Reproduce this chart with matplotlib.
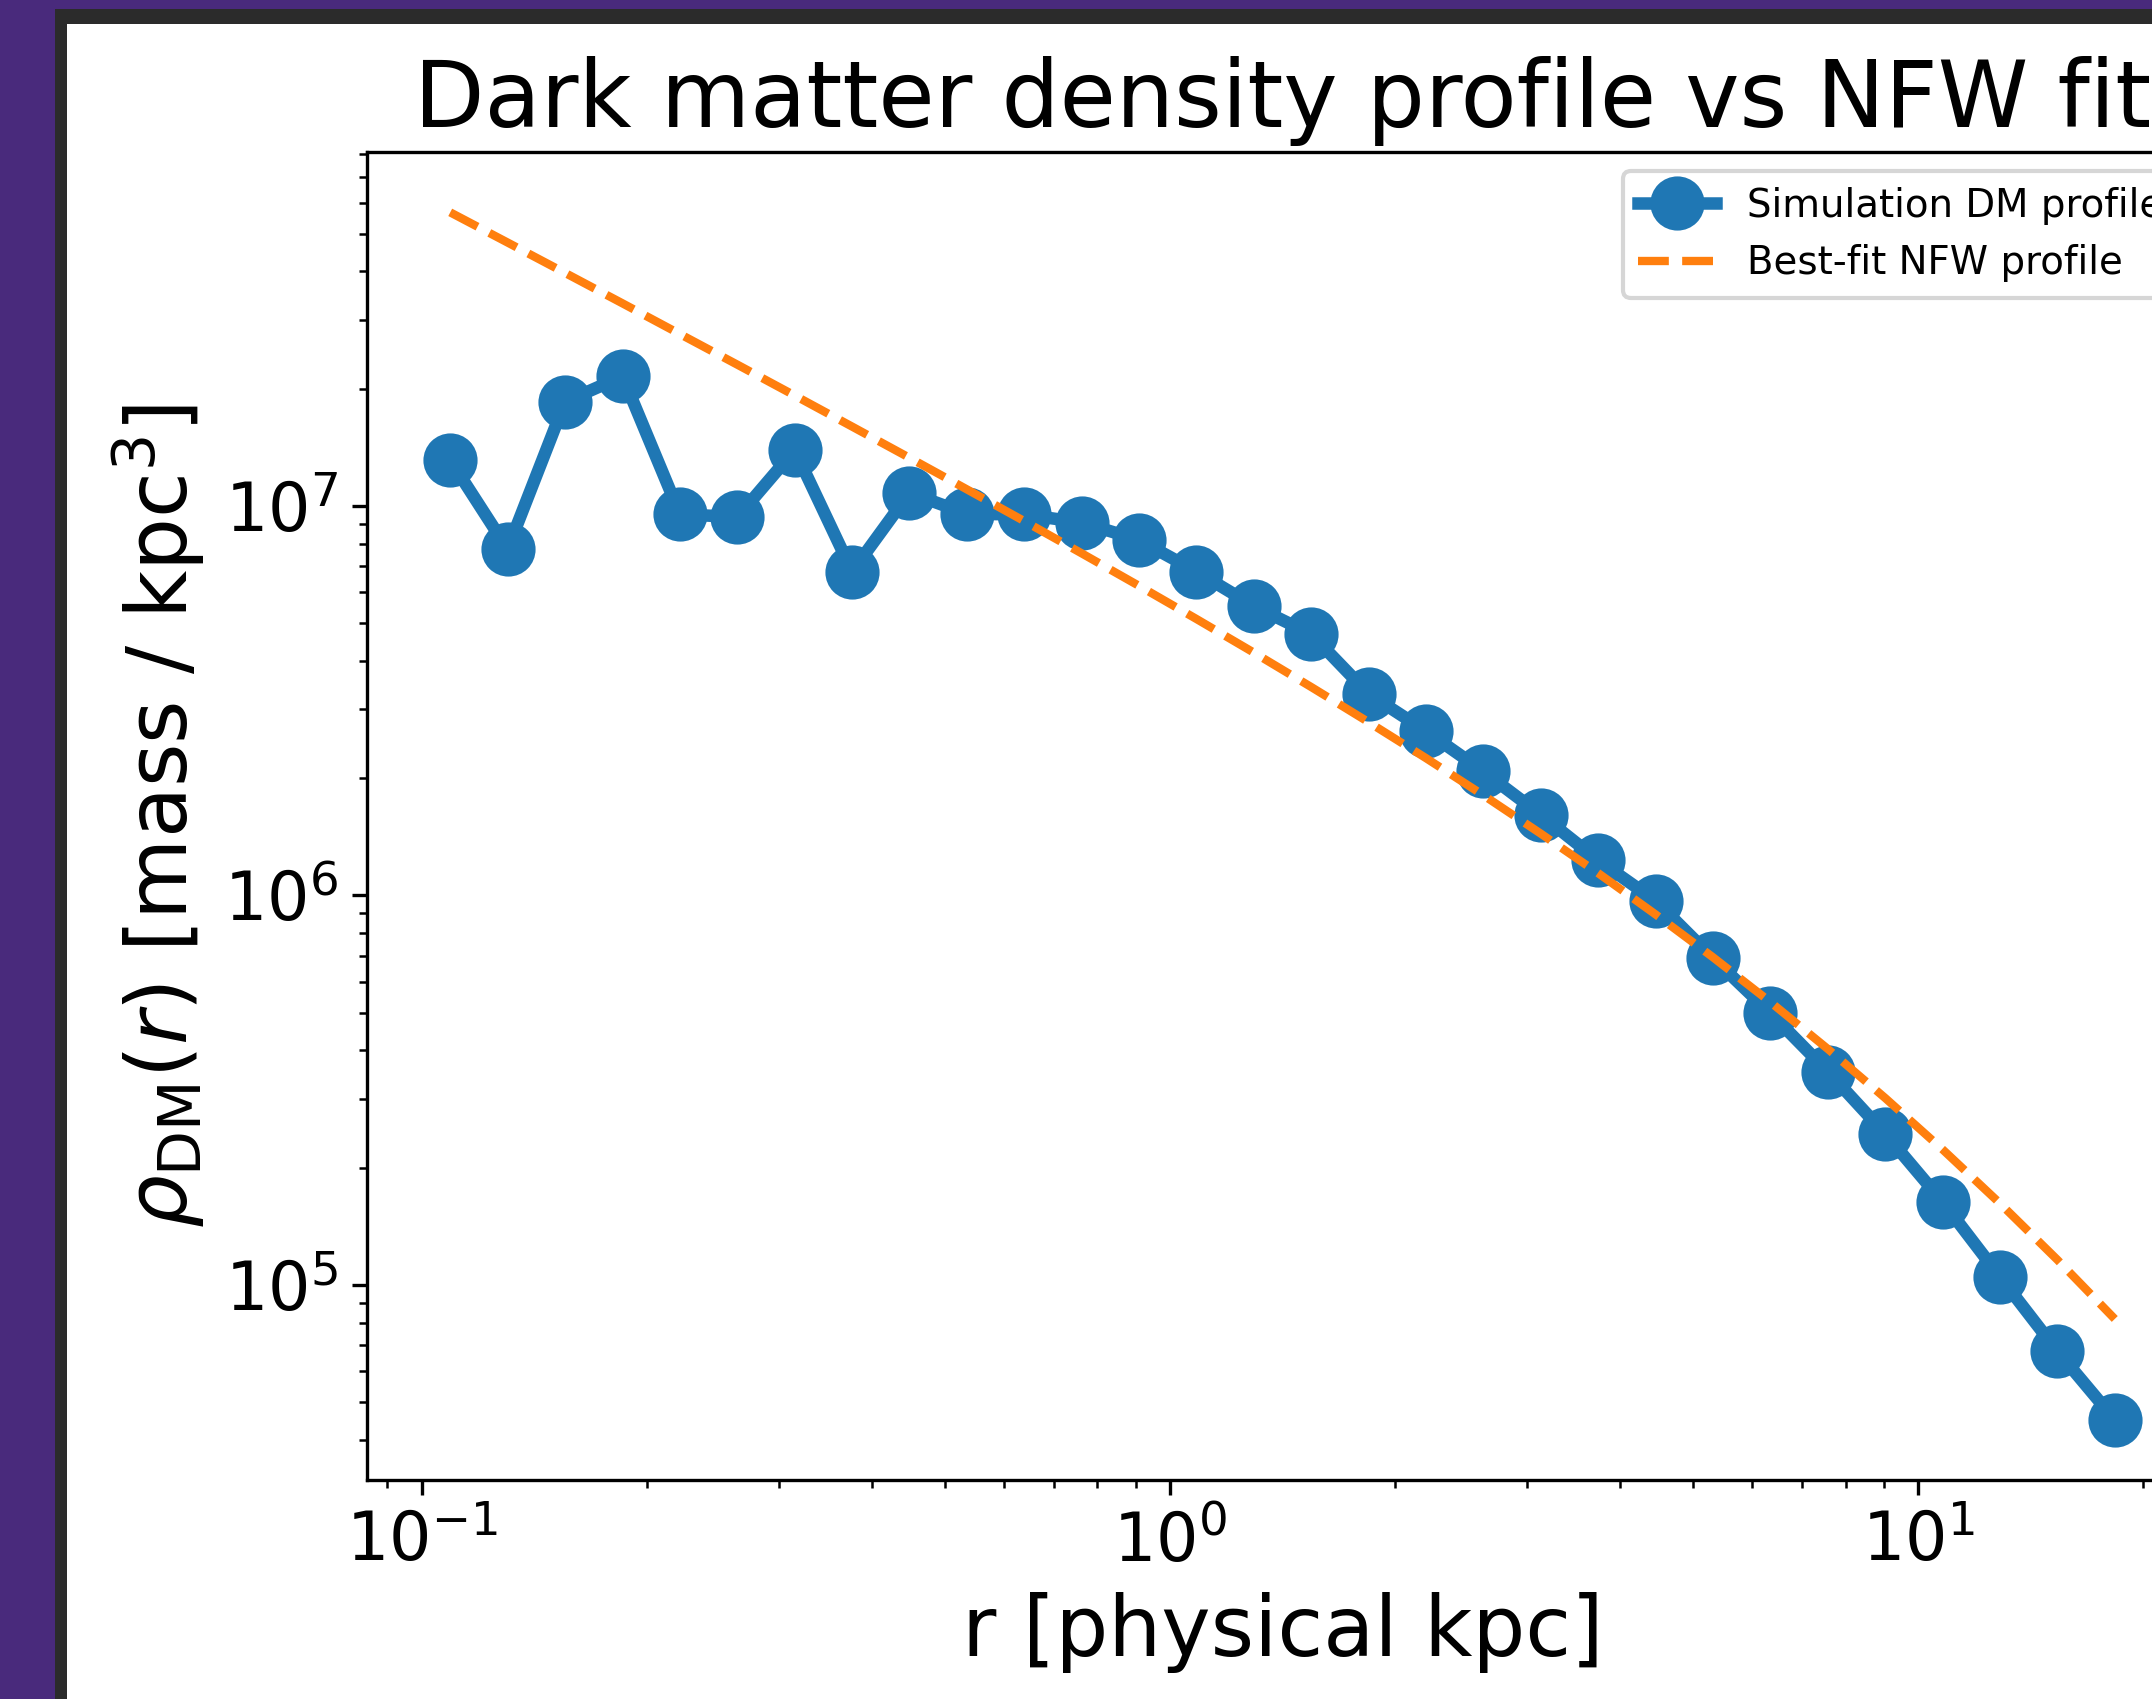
import matplotlib
matplotlib.use("Agg")
import matplotlib.pyplot as plt
from matplotlib.patches import Rectangle

# ---- data ----
r_kpc = [0.1092, 0.1303, 0.1555, 0.1856, 0.2214, 0.2642, 0.3152, 0.3761, 0.4487, 0.5354,
         0.6388, 0.7622, 0.9094, 1.0851, 1.2947, 1.5447, 1.8431, 2.1991, 2.6239, 3.1308,
         3.7355, 4.4571, 5.3180, 6.3453, 7.5710, 9.0334, 10.778, 12.860, 15.344, 18.308]

rho_sim = [1.31e7, 7.74e6, 1.85e7, 2.15e7, 9.52e6, 9.35e6, 1.39e7, 6.78e6, 1.08e7, 9.54e6,
           9.50e6, 9.06e6, 8.17e6, 6.78e6, 5.53e6, 4.68e6, 3.29e6, 2.64e6, 2.08e6, 1.61e6,
           1.23e6, 9.68e5, 6.90e5, 4.985e5, 3.53e5, 2.443e5, 1.635e5, 1.049e5, 6.76e4, 4.51e4]

rho_nfw = [5.666e7, 4.740e7, 3.961e7, 3.308e7, 2.760e7, 2.303e7, 1.919e7, 1.597e7, 1.328e7, 1.102e7,
           9.134e6, 7.551e6, 6.229e6, 5.122e6, 4.198e6, 3.426e6, 2.783e6, 2.250e6, 1.807e6, 1.440e6,
           1.140e6, 8.933e5, 6.934e5, 5.321e5, 4.034e5, 3.018e5, 2.227e5, 1.619e5, 1.160e5, 8.177e4]

title = "Dark matter density profile vs NFW fit"
xlabel = "r [physical kpc]"
ylabel = r"$\rho_{\rm DM}(r)$ [mass / kpc$^3$]"
labels = ["Simulation DM profile", "Best-fit NFW profile"]

# ---- figure ----
W, H = 2152, 1699
DPI = 300
fig = plt.figure(figsize=(W / DPI, H / DPI), dpi=DPI)
fig.patch.set_facecolor("#492a7c")

# dark window frame and white canvas
fig.add_artist(Rectangle((55 / W, 0), 1, 1 - 9 / H, transform=fig.transFigure,
                         facecolor="#2b2b2b", edgecolor="none", zorder=-3))
fig.add_artist(Rectangle((67 / W, 0), 1, 1 - 24 / H, transform=fig.transFigure,
                         facecolor="white", edgecolor="none", zorder=-2))

ax_left, ax_right = 367, 2198
ax_top, ax_bottom = 152, 1480
ax = fig.add_axes([ax_left / W, 1 - ax_bottom / H, (ax_right - ax_left) / W, (ax_bottom - ax_top) / H])

ax.plot(r_kpc, rho_sim, "o-", color="#1f77b4", lw=3, ms=12, label=labels[0])
ax.plot(r_kpc, rho_nfw, "--", color="#ff7f0e", lw=2, label=labels[1])

ax.set_xscale("log")
ax.set_yscale("log")

ax.set_title(title, fontsize=22)
ax.set_xlabel(xlabel, fontsize=20)
ax.set_ylabel(ylabel, fontsize=20)
ax.tick_params(axis="both", which="major", labelsize=16)

ax.legend(loc="upper right", fontsize=9.3)

fig.savefig("out.png", dpi=DPI)
